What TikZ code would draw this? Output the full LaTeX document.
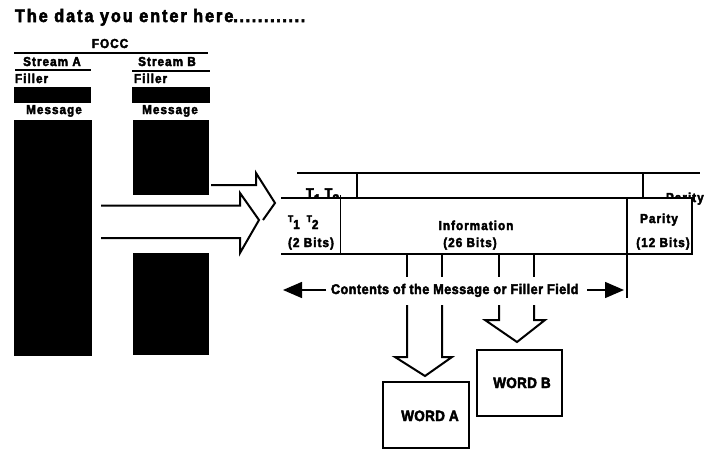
\documentclass[tikz,border=0pt]{standalone}
\usepackage{fontspec}
\setmainfont{Liberation Sans}[FakeStretch=0.9,FakeBold=3]
\usetikzlibrary{arrows.meta}
\begin{document}
\begin{tikzpicture}[x=1pt,y=-1pt,line width=2pt,line join=miter,
  lbl/.style={inner sep=0pt,font=\bfseries\fontsize{13}{13}\selectfont\addfontfeature{LetterSpace=8}},
  big/.style={inner sep=0pt,font=\bfseries\fontsize{14}{15}\selectfont\addfontfeature{LetterSpace=3.5}},
  wordbox/.style={draw,line width=2pt,minimum width=85pt,minimum height=66pt,inner sep=0pt},
  tip/.style={-{Triangle[length=19pt,width=16pt]}}]
\useasboundingbox (0,0) rectangle (706,450);
% title
\node[anchor=base west,inner sep=0pt,font=\bfseries\fontsize{18}{18}\selectfont] (title) at (14,22) {{\addfontfeature{LetterSpace=11}The data you enter here}{\addfontfeature{LetterSpace=9}............}};
% FOCC table
\node[lbl,anchor=base] (focc) at (110,48) {FOCC};
\draw (14,53) -- (208,53);
\node[lbl,anchor=base] (sa) at (52,66) {Stream A};
\draw (15,69.5) -- (91,69.5);
\node[lbl,anchor=base] (sb) at (167,66) {Stream B};
\draw (132,70.5) -- (210,70.5);
\node[lbl,anchor=base west] (fa) at (14,83) {Filler};
\node[lbl,anchor=base west] (fb) at (133,83) {Filler};
\fill (14,87) rectangle (91,103);
\fill (132,87) rectangle (210,103);
\node[lbl,anchor=base] (ma) at (54,114) {Message};
\node[lbl,anchor=base] (mb) at (170,114) {Message};
\fill (14,120) rectangle (92,356);
\fill (133,120) rectangle (209,194.5);
\fill (133,253) rectangle (209,355);
% arrows into the frame
\draw (211,185) -- (256,185) -- (256,173) -- (275,203) -- (263,220);
\draw (101,205.5) -- (240,205.5) -- (240,193) -- (259,220) -- (240,253) -- (240,238) -- (101,238);
% back frame
\draw (297,173) -- (700,173);
\draw (357,173) -- (357,198);
\draw (643,173) -- (643,198);
\node[lbl,anchor=base west] (backT) at (305,198) {\fontsize{14}{14}\selectfont T\raisebox{-6pt}{1}\hspace{4pt}T\raisebox{-6pt}{2}};
\node[lbl,anchor=base west] (backP) at (665,202) {Parity};
% front frame
\fill[white] (281,198) rectangle (692,254);
\draw (281,198) -- (692,198) -- (692,255);
\draw (281,253.5) -- (692,253.5);
\draw[line width=1pt] (340,195) -- (340,254);
\draw (627,198) -- (627,298);
\node[lbl,anchor=base west] (tt) at (287,222) {\fontsize{9.5}{9}\selectfont T\raisebox{-7pt}{\fontsize{13}{13}\selectfont 1}\hspace{7pt}T\raisebox{-7pt}{\fontsize{13}{13}\selectfont 2}};
\node[lbl,anchor=base] (tb) at (311,247) {(2 Bits)};
\node[lbl,anchor=base] (info) at (476,230) {Information};
\node[lbl,anchor=base] (infob) at (470,247) {(26 Bits)};
\node[lbl,anchor=base] (par) at (659,223) {Parity};
\node[lbl,anchor=base] (parb) at (663,247) {(12 Bits)};
% field lines
\draw (407,254) -- (407,277);
\draw (442,254) -- (442,277);
\draw (499,254) -- (499,277);
\draw (534,254) -- (534,277);
% contents arrow
\node[big,anchor=base west] (cont) at (330,294) {Contents of the Message or Filler Field};
\coordinate (cl) at (283,290);
\coordinate (cr) at (624,290);
\coordinate (clb) at (326,290);
\coordinate (crb) at (587,290);
\draw[tip,line width=1.5pt] (clb) -- (cl);
\draw[tip,line width=1.5pt] (crb) -- (cr);
% word arrows
\draw (499,305) -- (499,320) -- (485,320) -- (517,342) -- (545,320) -- (534,320) -- (534,305);
\draw (407,305) -- (407,357) -- (395,357) -- (425,376) -- (452,357) -- (442,357) -- (442,305);
% word boxes
\node[wordbox,minimum width=86pt] (wa) at (426,415) {};
\node[big,anchor=base,font=\bfseries\fontsize{15}{15}\selectfont\addfontfeature{LetterSpace=2}] (wat) at (430,421) {WORD A};
\node[wordbox] (wb) at (519.5,383) {};
\node[big,anchor=base,font=\bfseries\fontsize{15}{15}\selectfont\addfontfeature{LetterSpace=2}] (wbt) at (522,388) {WORD B};
\end{tikzpicture}
\end{document}
